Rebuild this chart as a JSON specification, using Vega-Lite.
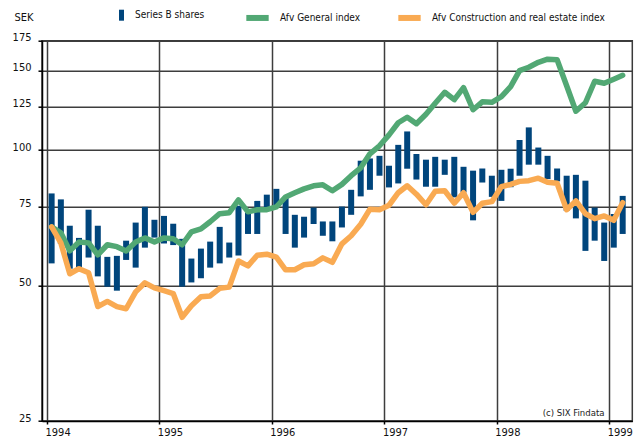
{
  "$schema": "https://vega.github.io/schema/vega-lite/v6.json",
  "width": 590.3,
  "height": 380.3,
  "autosize": "none",
  "padding": {"left": 42, "top": 40.7, "right": 6.7, "bottom": 17},
  "background": "white",
  "config": {
    "font": "DejaVu Sans Condensed, DejaVu Sans, sans-serif",
    "view": {"stroke": "#3a3a3a", "strokeWidth": 1.5},
    "axis": {
      "labelColor": "#111",
      "labelFontSize": 11,
      "titleColor": "#111",
      "domainColor": "#000",
      "domainWidth": 1.5,
      "tickColor": "#000",
      "tickWidth": 1.5,
      "gridColor": "#3d3d3d",
      "gridWidth": 1.5,
      "gridOpacity": 1
    },
    "legend": {"labelColor": "#111", "labelFontSize": 10, "labelLimit": 320}
  },
  "datasets": {
    "monthly": [
      {"date": "1994-01-16", "low": 56.0, "high": 80.1, "general": 67.5, "construction": 67.5},
      {"date": "1994-02-15", "low": 61.9, "high": 77.7, "general": 65.5, "construction": 62.2},
      {"date": "1994-03-16", "low": 54.5, "high": 67.9, "general": 59.7, "construction": 53.1},
      {"date": "1994-04-15", "low": 54.8, "high": 63.8, "general": 62.5, "construction": 54.5},
      {"date": "1994-05-16", "low": 57.7, "high": 73.7, "general": 62.2, "construction": 53.4},
      {"date": "1994-06-15", "low": 52.4, "high": 67.9, "general": 58.5, "construction": 44.9},
      {"date": "1994-07-16", "low": 49.7, "high": 57.9, "general": 61.6, "construction": 46.1},
      {"date": "1994-08-16", "low": 48.7, "high": 58.2, "general": 61.0, "construction": 44.9},
      {"date": "1994-09-15", "low": 57.0, "high": 62.9, "general": 59.7, "construction": 44.4},
      {"date": "1994-10-16", "low": 54.8, "high": 69.0, "general": 62.5, "construction": 48.4},
      {"date": "1994-11-15", "low": 60.7, "high": 74.8, "general": 63.8, "construction": 50.7},
      {"date": "1994-12-16", "low": 63.9, "high": 70.0, "general": 62.5, "construction": 49.4},
      {"date": "1995-01-16", "low": 62.0, "high": 71.4, "general": 63.8, "construction": 48.7},
      {"date": "1995-02-15", "low": 61.5, "high": 68.6, "general": 63.5, "construction": 48.0},
      {"date": "1995-03-16", "low": 49.7, "high": 63.5, "general": 61.6, "construction": 42.5},
      {"date": "1995-04-15", "low": 50.8, "high": 57.4, "general": 65.8, "construction": 45.1},
      {"date": "1995-05-16", "low": 51.9, "high": 60.4, "general": 66.8, "construction": 47.2},
      {"date": "1995-06-15", "low": 54.8, "high": 62.6, "general": 69.3, "construction": 47.4},
      {"date": "1995-07-16", "low": 56.0, "high": 67.5, "general": 72.2, "construction": 49.3},
      {"date": "1995-08-16", "low": 57.7, "high": 62.3, "general": 72.6, "construction": 49.6},
      {"date": "1995-09-15", "low": 58.3, "high": 75.2, "general": 77.5, "construction": 56.7},
      {"date": "1995-10-16", "low": 65.1, "high": 72.7, "general": 72.9, "construction": 55.3},
      {"date": "1995-11-15", "low": 65.1, "high": 77.1, "general": 73.7, "construction": 58.4},
      {"date": "1995-12-16", "low": 74.4, "high": 79.6, "general": 73.7, "construction": 58.7},
      {"date": "1996-01-16", "low": 75.2, "high": 82.0, "general": 74.8, "construction": 57.8},
      {"date": "1996-02-15", "low": 65.1, "high": 78.5, "general": 78.7, "construction": 54.2},
      {"date": "1996-03-16", "low": 60.7, "high": 71.8, "general": 80.4, "construction": 54.2},
      {"date": "1996-04-15", "low": 63.9, "high": 71.1, "general": 82.0, "construction": 55.6},
      {"date": "1996-05-16", "low": 68.5, "high": 74.5, "general": 83.3, "construction": 55.9},
      {"date": "1996-06-15", "low": 64.5, "high": 69.4, "general": 83.7, "construction": 57.6},
      {"date": "1996-07-16", "low": 62.7, "high": 69.4, "general": 81.2, "construction": 56.3},
      {"date": "1996-08-16", "low": 67.3, "high": 74.9, "general": 83.9, "construction": 61.9},
      {"date": "1996-09-15", "low": 71.8, "high": 81.6, "general": 87.7, "construction": 64.5},
      {"date": "1996-10-16", "low": 78.9, "high": 94.7, "general": 91.3, "construction": 68.4},
      {"date": "1996-11-15", "low": 81.6, "high": 95.8, "general": 98.1, "construction": 73.9},
      {"date": "1996-12-16", "low": 87.7, "high": 97.1, "general": 102.2, "construction": 73.7},
      {"date": "1997-01-16", "low": 82.6, "high": 92.3, "general": 108.1, "construction": 75.4},
      {"date": "1997-02-15", "low": 84.3, "high": 102.7, "general": 115.0, "construction": 80.4},
      {"date": "1997-03-16", "low": 90.9, "high": 110.0, "general": 118.3, "construction": 83.3},
      {"date": "1997-04-15", "low": 86.0, "high": 98.0, "general": 114.4, "construction": 79.8},
      {"date": "1997-05-16", "low": 82.9, "high": 95.2, "general": 120.1, "construction": 75.6},
      {"date": "1997-06-15", "low": 82.9, "high": 96.6, "general": 127.1, "construction": 81.0},
      {"date": "1997-07-16", "low": 88.1, "high": 95.2, "general": 134.4, "construction": 81.2},
      {"date": "1997-08-16", "low": 78.5, "high": 96.6, "general": 129.4, "construction": 76.2},
      {"date": "1997-09-15", "low": 80.5, "high": 91.8, "general": 137.6, "construction": 80.4},
      {"date": "1997-10-16", "low": 69.8, "high": 90.0, "general": 122.9, "construction": 72.7},
      {"date": "1997-11-15", "low": 84.7, "high": 91.0, "general": 128.0, "construction": 76.2},
      {"date": "1997-12-16", "low": 78.7, "high": 87.7, "general": 127.7, "construction": 76.8},
      {"date": "1998-01-16", "low": 77.1, "high": 90.4, "general": 131.4, "construction": 82.9},
      {"date": "1998-02-15", "low": 82.7, "high": 90.9, "general": 138.3, "construction": 83.9},
      {"date": "1998-03-16", "low": 87.7, "high": 105.3, "general": 150.1, "construction": 85.2},
      {"date": "1998-04-15", "low": 92.8, "high": 112.3, "general": 152.8, "construction": 85.5},
      {"date": "1998-05-16", "low": 92.8, "high": 101.3, "general": 156.7, "construction": 86.6},
      {"date": "1998-06-15", "low": 86.2, "high": 97.1, "general": 159.2, "construction": 84.8},
      {"date": "1998-07-16", "low": 85.2, "high": 91.0, "general": 158.7, "construction": 84.4},
      {"date": "1998-08-16", "low": 73.3, "high": 87.7, "general": 139.0, "construction": 73.7},
      {"date": "1998-09-15", "low": 70.5, "high": 88.1, "general": 122.0, "construction": 77.1},
      {"date": "1998-10-16", "low": 59.7, "high": 85.5, "general": 127.4, "construction": 72.2},
      {"date": "1998-11-15", "low": 62.9, "high": 74.5, "general": 142.2, "construction": 70.4},
      {"date": "1998-12-16", "low": 56.7, "high": 69.0, "general": 140.8, "construction": 71.4},
      {"date": "1999-01-16", "low": 60.7, "high": 72.1, "general": 143.7, "construction": 69.8},
      {"date": "1999-02-14", "low": 65.1, "high": 79.1, "general": 146.6, "construction": 76.4}
    ],
    "source": [
      {"note": "(c) SIX Findata"}
    ]
  },
  "layer": [
    {
      "data": {"name": "monthly"},
      "mark": {"type": "bar", "width": 6},
      "encoding": {
        "x": {
          "field": "date",
          "type": "temporal",
          "scale": {"domain": ["1994-01-01", "1999-03-01"]},
          "axis": {
            "title": null,
            "format": "%Y",
            "tickCount": {"interval": "year", "step": 1},
            "labelAlign": "left",
            "labelBaseline": "top",
            "labelPadding": 2,
            "labelOffset": -2,
            "tickSize": 3,
            "grid": true,
            "labelOverlap": false
          }
        },
        "y": {
          "field": "high",
          "type": "quantitative",
          "scale": {"type": "log", "domain": [25, 175], "nice": false},
          "axis": {
            "values": [25, 50, 75, 100, 125, 150, 175],
            "title": "SEK",
            "titleAngle": 0,
            "titleAlign": "left",
            "titleBaseline": "alphabetic",
            "titleX": -28,
            "titleY": -20,
            "titleFontSize": 11,
            "titleFontWeight": "normal",
            "tickSize": 4,
            "labelPadding": 7,
            "labelOffset": -3,
            "grid": true
          }
        },
        "y2": {"field": "low"},
        "fill": {
          "datum": "Series B shares",
          "scale": {"range": ["#00457c"]},
          "legend": {
            "title": null,
            "orient": "none",
            "legendX": 74,
            "legendY": -31,
            "padding": 0,
            "symbolType": "M-0.45,-1H0.45V1H-0.45Z",
            "symbolSize": 121,
            "symbolStrokeWidth": 0,
            "labelOffset": 8
          }
        }
      }
    },
    {
      "data": {"name": "monthly"},
      "mark": {"type": "line", "strokeWidth": 5.5, "strokeJoin": "round", "strokeCap": "round"},
      "encoding": {
        "x": {"field": "date", "type": "temporal"},
        "y": {"field": "general", "type": "quantitative"},
        "stroke": {
          "datum": "Afv General index",
          "scale": {
            "domain": ["Afv General index", "Afv Construction and real estate index"],
            "range": ["#52a874", "#f9aa52"]
          },
          "legend": {
            "title": null,
            "orient": "none",
            "direction": "horizontal",
            "columns": 2,
            "legendX": 201,
            "legendY": -37.5,
            "padding": 0,
            "symbolType": "stroke",
            "symbolSize": 500,
            "symbolStrokeWidth": 6,
            "labelOffset": 8,
            "columnPadding": 25
          }
        }
      }
    },
    {
      "data": {"name": "monthly"},
      "mark": {"type": "line", "strokeWidth": 5.5, "strokeJoin": "round", "strokeCap": "round"},
      "encoding": {
        "x": {"field": "date", "type": "temporal"},
        "y": {"field": "construction", "type": "quantitative"},
        "stroke": {"datum": "Afv Construction and real estate index"}
      }
    },
    {
      "data": {"name": "source"},
      "mark": {"type": "text", "align": "right", "baseline": "middle", "fontSize": 9.5, "color": "#222"},
      "encoding": {
        "x": {"datum": {"year": 1998, "month": 12, "date": 17}, "type": "temporal"},
        "y": {"datum": 26.1, "type": "quantitative"},
        "text": {"field": "note", "type": "nominal"}
      }
    }
  ]
}
